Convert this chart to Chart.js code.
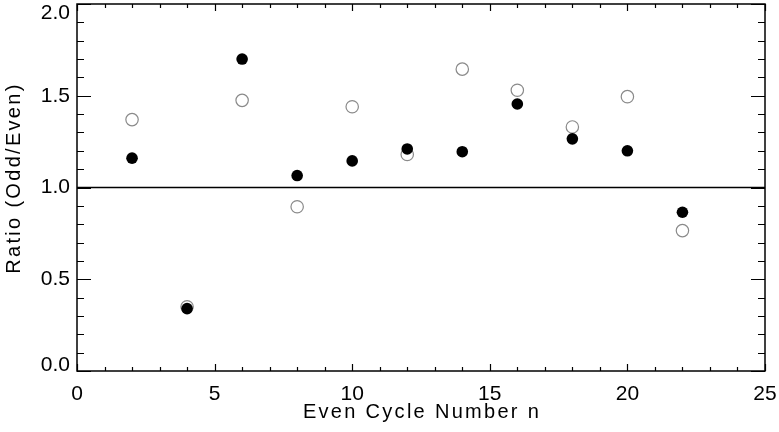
<!DOCTYPE html>
<html>
<head>
<meta charset="utf-8">
<script src="https://cdn.jsdelivr.net/npm/chart.js@4"></script>
<style>
  html, body { margin: 0; padding: 0; background: #fff; }
  #wrap { width: 779px; height: 432px; }
</style>
</head>
<body>
<div id="wrap"><canvas id="ratio-chart" width="779" height="432"></canvas></div>
<script>
    // data
    const cycles = [2, 4, 6, 8, 10, 12, 14, 16, 18, 20, 22]
    const filledRatio = [1.16, 0.34, 1.70, 1.065, 1.145, 1.21, 1.195, 1.455, 1.265, 1.20, 0.865]
    const openRatio = [1.37, 0.35, 1.475, 0.895, 1.44, 1.18, 1.645, 1.53, 1.33, 1.495, 0.765]
    const xTicks = [0, 5, 10, 15, 20, 25]
    const yTicks = [0, 0.5, 1.0, 1.5, 2.0]
    const refLine = 1.0
    const xTitle = 'Even Cycle Number n'
    const yTitle = 'Ratio (Odd/Even)'

    const toPoints = (ys) => cycles.map((x, i) => ({ x: x, y: ys[i] }))
    const fontFamily = 'Liberation Sans, Arial, sans-serif'

    // inside ticks on all four sides, frame, y labels (end ones kept inside) and titles
    const frameTicks = {
        id: 'frameTicks',
        afterDatasetsDraw(chart) {
            const ctx = chart.ctx
            const a = chart.chartArea
            const xs = chart.scales.x
            const ys = chart.scales.y
            ctx.save()
            ctx.strokeStyle = '#000'
            ctx.lineWidth = 1.5
            ctx.strokeRect(a.left, a.top, a.right - a.left, a.bottom - a.top)
            ctx.lineWidth = 1.2
            ctx.beginPath()
            for (let v = 0; v <= 25; v++) {
                const px = Math.round(xs.getPixelForValue(v)) + 0.5
                const len = v % 5 === 0 ? 7 : 4
                ctx.moveTo(px, a.bottom); ctx.lineTo(px, a.bottom - len)
                ctx.moveTo(px, a.top); ctx.lineTo(px, a.top + len)
            }
            for (let k = 0; k <= 20; k++) {
                const py = Math.round(ys.getPixelForValue(k / 10)) + 0.5
                const len = k % 5 === 0 ? 14 : 7
                ctx.moveTo(a.left, py); ctx.lineTo(a.left + len, py)
                ctx.moveTo(a.right, py); ctx.lineTo(a.right - len, py)
            }
            ctx.stroke()

            ctx.fillStyle = '#000'
            ctx.font = '21px ' + fontFamily
            ctx.textAlign = 'right'
            yTicks.forEach((v, i) => {
                const py = ys.getPixelForValue(v)
                if (i === 0) { ctx.textBaseline = 'alphabetic'; ctx.fillText(v.toFixed(1), a.left - 7, py) }
                else if (i === yTicks.length - 1) { ctx.textBaseline = 'top'; ctx.fillText(v.toFixed(1), a.left - 7, py - 1) }
                else { ctx.textBaseline = 'middle'; ctx.fillText(v.toFixed(1), a.left - 7, py) }
            })

            ctx.font = '20px ' + fontFamily
            ctx.letterSpacing = '2.3px'
            ctx.textAlign = 'center'
            ctx.textBaseline = 'middle'
            ctx.fillText(xTitle, (a.left + a.right) / 2 + 1, 412)
            ctx.translate(14, 178)
            ctx.rotate(-Math.PI / 2)
            ctx.fillText(yTitle, 0, 0)
            ctx.restore()
        }
    }

    const ratioChart = new Chart(document.getElementById('ratio-chart'), {
        type: 'scatter',
        data: {
            datasets: [{
                label: 'filled',
                data: toPoints(filledRatio),
                backgroundColor: '#000',
                borderColor: '#000',
                borderWidth: 0,
                pointRadius: 5.8
            }, {
                label: 'open',
                data: toPoints(openRatio),
                backgroundColor: '#fff',
                borderColor: '#8a8a8a',
                borderWidth: 1.2,
                pointRadius: 6.2
            }, {
                label: 'unity',
                data: [{ x: 0, y: refLine }, { x: 25, y: refLine }],
                showLine: true,
                borderColor: '#000',
                borderWidth: 1.5,
                pointRadius: 0
            }]
        },
        options: {
            responsive: false,
            animation: false,
            layout: { autoPadding: false, padding: { left: 0, right: 14, top: 4, bottom: 0 } },
            plugins: {
                legend: { display: false },
                tooltip: { enabled: false }
            },
            scales: {
                x: {
                    type: 'linear',
                    min: 0,
                    max: 25,
                    afterFit: (s) => { s.height = 61; s.paddingLeft = 0; s.paddingRight = 0 },
                    afterBuildTicks: (s) => { s.ticks = xTicks.map(v => ({ value: v })) },
                    grid: { display: false, drawTicks: false },
                    border: { display: false },
                    ticks: {
                        color: '#000',
                        padding: 11,
                        maxRotation: 0,
                        font: { family: fontFamily, size: 21 }
                    }
                },
                y: {
                    type: 'linear',
                    min: 0,
                    max: 2,
                    afterFit: (s) => { s.width = 77; s.paddingTop = 0; s.paddingBottom = 0 },
                    afterBuildTicks: (s) => { s.ticks = yTicks.map(v => ({ value: v })) },
                    grid: { display: false, drawTicks: false },
                    border: { display: false },
                    ticks: { display: false }
                }
            }
        },
        plugins: [frameTicks]
    })
</script>
</body>
</html>
